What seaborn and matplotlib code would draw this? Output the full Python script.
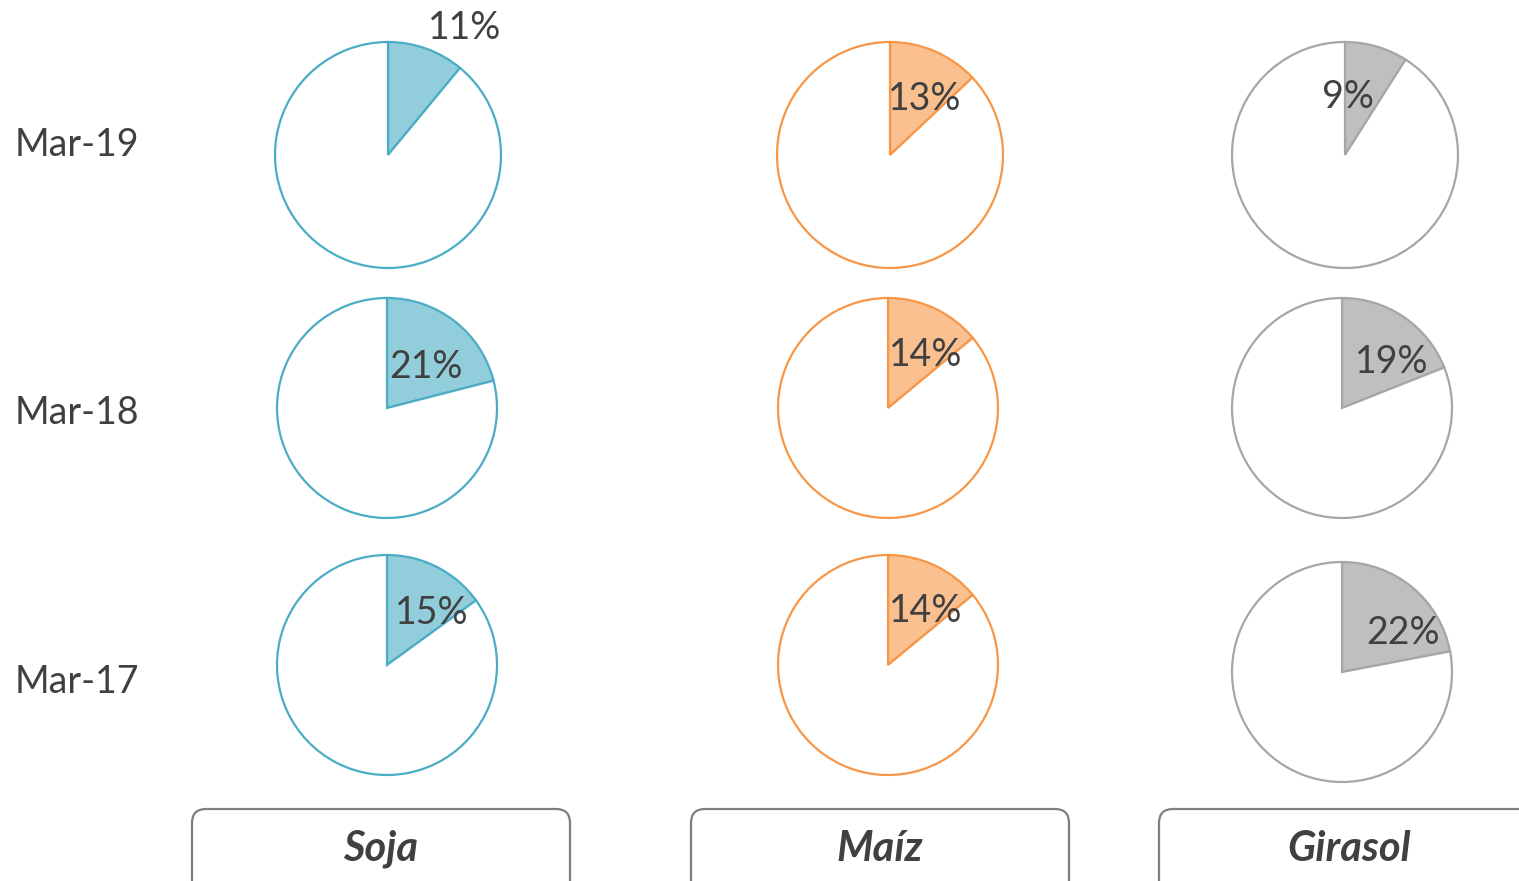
import matplotlib
matplotlib.use("Agg")
import matplotlib.pyplot as plt
from matplotlib.patches import FancyBboxPatch
import seaborn as sns

# ---- data ----
crops = ["Soja", "Maíz", "Girasol"]
periods = ["Mar-19", "Mar-18", "Mar-17"]
soja = [11, 21, 15]
maiz = [13, 14, 14]
girasol = [9, 19, 22]
values = {"Soja": soja, "Maíz": maiz, "Girasol": girasol}

# ---- styles ----
fills = {"Soja": "#92CDDC", "Maíz": "#FAC090", "Girasol": "#BFBFBF"}
edges = {"Soja": "#4BACC6", "Maíz": "#F79646", "Girasol": "#A6A6A6"}
text_col = "#404040"

sns.set_theme(style="white")
plt.rcParams["font.family"] = ["Lato", "DejaVu Sans"]

W, H = 1519, 881
fig = plt.figure(figsize=(W / 100, H / 100), dpi=100)
ax = fig.add_axes([0, 0, 1, 1])

# layout (pixel space, y measured from top)
col_x = {"Soja": [388, 387, 387], "Maíz": [890, 888, 888], "Girasol": [1345, 1342, 1342]}
row_y = {"Soja": [155, 408, 665], "Maíz": [155, 408, 665], "Girasol": [155, 408, 672]}
radii = [113, 110, 110]
label_off = {
    "Soja": [(0.68, 1.12), (0.35, 0.37), (0.41, 0.47)],
    "Maíz": [(0.31, 0.50), (0.34, 0.48), (0.34, 0.49)],
    "Girasol": [(0.03, 0.51), (0.45, 0.42), (0.55, 0.35)],
}

for crop in crops:
    for i, p in enumerate(values[crop]):
        cx = col_x[crop][i]
        cy = H - row_y[crop][i]
        r = radii[i]
        ax.pie([p, 100 - p], colors=[fills[crop], "white"], startangle=90,
               counterclock=False, center=(cx, cy), radius=r, frame=True,
               wedgeprops=dict(edgecolor=edges[crop], linewidth=1.6))
        ox, oy = label_off[crop][i]
        ax.text(cx + ox * r, cy + oy * r, f"{p}%", ha="center", va="center",
                fontsize=27, color=text_col)

# row labels
row_label_y = [145, 413, 682]
for lab, y in zip(periods, row_label_y):
    ax.text(15, H - y, lab, ha="left", va="center", fontsize=27, color=text_col)

# bottom category boxes
box_x = {"Soja": (192, 570), "Maíz": (691, 1069), "Girasol": (1159, 1540)}
text_x = {"Soja": 381, "Maíz": 880, "Girasol": 1349}
for crop in crops:
    x0, x1 = box_x[crop]
    box = FancyBboxPatch((x0, H - 900), x1 - x0, 900 - 809,
                         boxstyle="round,pad=0,rounding_size=14",
                         facecolor="white", edgecolor="#7F7F7F", linewidth=1.6)
    ax.add_patch(box)
    ax.text(text_x[crop], H - 849, crop, ha="center", va="center",
            fontsize=30, fontweight="bold", fontstyle="italic", color=text_col)

ax.set_xlim(0, W)
ax.set_ylim(0, H)
ax.set_aspect("equal")
ax.axis("off")

fig.savefig("out.png", dpi=100, facecolor="white")
